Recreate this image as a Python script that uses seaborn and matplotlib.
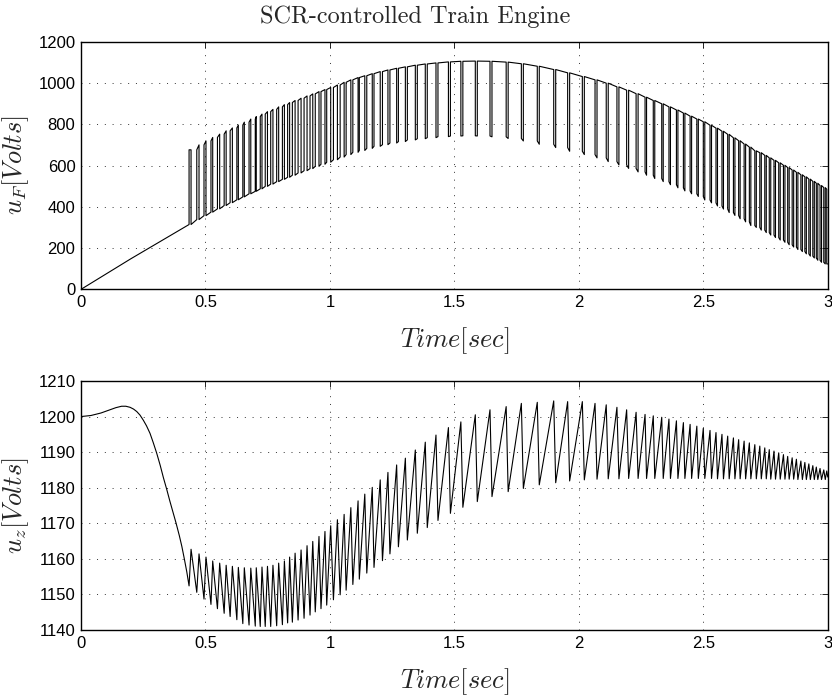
import matplotlib
matplotlib.use('Agg')
import matplotlib.pyplot as plt
import seaborn as sns
import pandas as pd

# chopper switching instants (peaks of u_z) [s]
pulse_t = [0.442, 0.474, 0.502, 0.529, 0.557, 0.583, 0.608, 0.632, 0.656, 0.682,
           0.704, 0.727, 0.749, 0.771, 0.794, 0.817, 0.838,
           0.860, 0.884, 0.908, 0.931, 0.956, 0.980, 1.003, 1.030, 1.057, 1.084,
           1.113, 1.140, 1.170, 1.202, 1.233, 1.268,
           1.303, 1.343, 1.383, 1.426, 1.476, 1.526, 1.584, 1.643, 1.708, 1.769,
           1.833, 1.899, 1.955, 2.014, 2.065, 2.110, 2.153, 2.192, 2.230, 2.266,
           2.299, 2.333, 2.362, 2.392, 2.420, 2.447, 2.474, 2.500, 2.527, 2.551,
           2.575, 2.598, 2.621, 2.642, 2.664, 2.685, 2.707, 2.727, 2.747, 2.765,
           2.784, 2.803, 2.822, 2.839, 2.857, 2.874, 2.892, 2.908, 2.924, 2.940,
           2.954, 2.969, 2.984, 2.996]
# instants of the minima of u_z before each peak [s]
trough_t = [0.434, 0.465, 0.494, 0.522, 0.548, 0.575, 0.599, 0.626, 0.650, 0.675,
            0.700, 0.720, 0.740, 0.762, 0.786, 0.809, 0.830,
            0.849, 0.872, 0.896, 0.920, 0.941, 0.964, 0.987, 1.014, 1.041, 1.065,
            1.092, 1.118, 1.148, 1.177, 1.211, 1.241,
            1.275, 1.311, 1.351, 1.391, 1.434, 1.484, 1.534, 1.592, 1.651, 1.716,
            1.777, 1.841, 1.907, 1.963, 2.022, 2.073, 2.118, 2.161, 2.200, 2.238,
            2.272, 2.305, 2.339, 2.368, 2.398, 2.426, 2.453, 2.480, 2.506, 2.533,
            2.557, 2.581, 2.604, 2.627, 2.648, 2.670, 2.691, 2.713, 2.733, 2.753,
            2.771, 2.790, 2.809, 2.828, 2.845, 2.863, 2.880, 2.898, 2.914, 2.930,
            2.946, 2.960, 2.975, 2.990]

uz_peak = [1162.7, 1161.4, 1160.5, 1159.4, 1158.8, 1158.2, 1157.9, 1157.6, 1157.5, 1157.4,
           1157.5, 1157.7, 1157.9, 1158.2, 1158.8, 1159.4, 1160.5,
           1161.6, 1162.5, 1163.7, 1164.9, 1166.3, 1167.7, 1169.3, 1171.0, 1172.5, 1174.4,
           1176.3, 1178.2, 1180.1, 1182.2, 1184.3, 1186.4,
           1188.3, 1190.6, 1192.8, 1194.8, 1196.9, 1198.5, 1200.5, 1201.9, 1202.8, 1203.7,
           1204.0, 1204.4, 1204.2, 1204.2, 1203.7, 1203.3, 1202.6, 1201.9, 1201.2, 1200.6,
           1200.2, 1199.8, 1199.3, 1198.8, 1198.3, 1197.8, 1197.3, 1196.7, 1196.1, 1195.5,
           1195.0, 1194.5, 1194.0, 1193.5, 1193.1, 1192.6, 1192.1, 1191.7, 1191.2, 1190.7,
           1190.3, 1189.8, 1189.3, 1188.8, 1188.4, 1188.0, 1187.5, 1187.1, 1186.7, 1186.2,
           1185.8, 1185.4, 1185.0, 1184.7]
uz_trough = [1152.4, 1150.6, 1148.7, 1147.2, 1146.0, 1144.7, 1143.8, 1142.9, 1141.8, 1141.4,
             1141.1, 1141.0, 1141.0, 1141.0, 1141.2, 1141.5, 1142.0,
             1142.2, 1142.8, 1143.3, 1144.2, 1145.1, 1146.0, 1147.0, 1148.5, 1149.9, 1151.2,
             1152.8, 1154.3, 1156.0, 1157.6, 1159.5, 1161.4,
             1163.4, 1165.3, 1167.2, 1168.8, 1170.8, 1172.8, 1174.5, 1176.1, 1177.5, 1178.9,
             1179.8, 1180.8, 1181.4, 1181.9, 1182.2, 1182.4, 1182.5, 1182.5, 1182.6, 1182.6,
             1182.6, 1182.6, 1182.6, 1182.6, 1182.6, 1182.6, 1182.6, 1182.6, 1182.6, 1182.6,
             1182.5, 1182.5, 1182.5, 1182.5, 1182.5, 1182.5, 1182.5, 1182.5, 1182.5, 1182.5,
             1182.4, 1182.4, 1182.4, 1182.4, 1182.4, 1182.4, 1182.3, 1182.3, 1182.3, 1182.3,
             1182.3, 1182.3, 1182.3, 1182.3]

# u_F upper / lower level at each switching instant
uF_hi = [676, 700, 719, 736, 752, 768, 782, 796, 810, 825,
         837, 849, 861, 872, 884, 895, 905,
         915, 926, 937, 947, 958, 968, 978, 990, 1003, 1015,
         1026, 1035, 1045, 1055, 1063, 1071,
         1078, 1086, 1092, 1097, 1102, 1105, 1106, 1105, 1101, 1093,
         1081, 1065, 1049, 1031, 1015, 999, 981, 965, 948, 931,
         915, 899, 884, 869, 854, 839, 825, 812, 795, 781,
         766, 751, 734, 720, 704, 689, 671, 662, 649, 637,
         625, 613, 601, 590, 578, 567, 555, 545, 534, 523,
         514, 503, 493, 485]
uF_lo = [314, 338, 357, 374, 390, 406, 420, 434, 448, 463,
         475, 487, 499, 510, 522, 533, 543,
         553, 564, 575, 585, 596, 606, 616, 628, 641, 653,
         664, 673, 683, 693, 701, 709,
         716, 724, 730, 735, 740, 743, 744, 743, 739, 731,
         719, 703, 687, 669, 653, 637, 619, 603, 586, 569,
         553, 537, 522, 507, 492, 477, 463, 450, 433, 419,
         404, 389, 372, 358, 342, 327, 309, 300, 287, 275,
         263, 251, 239, 228, 216, 205, 193, 183, 172, 161,
         152, 141, 131, 123]

# start-up part before the first switching
uF_ramp_t = [0.0, 0.2]
uF_ramp_v = [0, 148]
uz_start_t = [0.0, 0.04, 0.08, 0.12, 0.14, 0.163, 0.18, 0.197, 0.211, 0.224, 0.237,
              0.25, 0.263, 0.277, 0.29, 0.304, 0.318, 0.331, 0.344, 0.357, 0.37,
              0.382, 0.395, 0.405, 0.415, 0.425]
uz_start_v = [1200.0, 1200.3, 1201.0, 1202.0, 1202.5, 1202.9, 1202.9, 1202.6, 1202.1,
              1201.4, 1200.4, 1199.0, 1197.4, 1195.3, 1192.7, 1189.7, 1186.3, 1182.8,
              1179.6, 1176.2, 1173.0, 1170.0, 1166.5, 1163.5, 1160.0, 1156.3]
t_end = 3.0
uz_end = 1183.0

x_ticks = [0, 0.5, 1, 1.5, 2, 2.5, 3]
x_ticklabels = ['0', '0.5', '1', '1.5', '2', '2.5', '3']
uF_ticks = [0, 200, 400, 600, 800, 1000, 1200]
uz_ticks = [1140, 1150, 1160, 1170, 1180, 1190, 1200, 1210]

# build the waveforms
uf_x, uf_y = list(uF_ramp_t), list(uF_ramp_v)
for k in range(len(pulse_t)):
    hi_before = uF_hi[k - 1] if k else uF_hi[0]
    uf_x += [trough_t[k], trough_t[k], pulse_t[k], pulse_t[k]]
    uf_y += [uF_lo[k], hi_before, uF_hi[k], uF_lo[k]]
uf_x.append(t_end)
uf_y.append(uF_lo[-1])

uz_x, uz_y = list(uz_start_t), list(uz_start_v)
for k in range(len(pulse_t)):
    uz_x += [trough_t[k], pulse_t[k]]
    uz_y += [uz_trough[k], uz_peak[k]]
uz_x.append(t_end)
uz_y.append(uz_end)

df_f = pd.DataFrame({'t': uf_x, 'u': uf_y})
df_z = pd.DataFrame({'t': uz_x, 'u': uz_y})

sns.set_theme(style='white')
plt.rcParams['font.family'] = ['Liberation Sans', 'DejaVu Sans']
plt.rcParams['mathtext.fontset'] = 'cm'

fig = plt.figure(figsize=(8.32, 6.97), dpi=100)
ax1 = fig.add_axes([0.0974, 0.5849, 0.8975, 0.3553])
ax2 = fig.add_axes([0.0974, 0.0961, 0.8975, 0.3573])

sns.lineplot(data=df_f, x='t', y='u', sort=False, estimator=None,
             color='black', lw=0.8, ax=ax1)
sns.lineplot(data=df_z, x='t', y='u', sort=False, estimator=None,
             color='black', lw=0.8, ax=ax2)

for ax, yt, lab in [(ax1, uF_ticks, r'$u_F[Volts]$'), (ax2, uz_ticks, r'$u_z[Volts]$')]:
    ax.set_xlim(0, 3)
    ax.set_ylim(yt[0], yt[-1])
    ax.set_xticks(x_ticks)
    ax.set_xticklabels(x_ticklabels)
    ax.set_yticks(yt)
    ax.set_yticklabels([str(v) for v in yt])
    ax.tick_params(direction='in', top=True, right=True, length=4, width=0.6,
                   labelsize=12, pad=4, colors='black')
    ax.grid(True, color='#333333', linestyle=(0, (1, 7)), linewidth=0.7)
    for s in ax.spines.values():
        s.set_color('black')
        s.set_linewidth(1.0)
    ax.set_xlabel(r'$Time[sec]$', fontsize=19, labelpad=11)
    ax.set_ylabel(lab, fontsize=19, labelpad=5)

fig.text(0.4994, 0.9756, 'SCR-controlled Train Engine', family='cmr10',
         fontsize=17.5, ha='center', va='center')

fig.savefig('out.png', dpi=100)
